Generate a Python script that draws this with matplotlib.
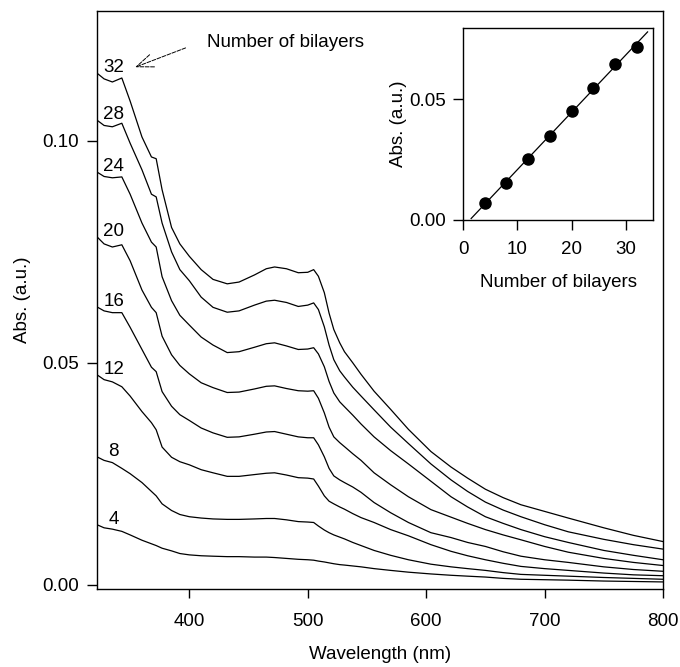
import numpy as np
import matplotlib
matplotlib.use('Agg')
import matplotlib.pyplot as plt

plt.rcParams['font.family'] = ['Liberation Sans', 'DejaVu Sans']
plt.rcParams['font.size'] = 13.5

# wavelength grid (nm)
wavelength = [322, 328, 335, 343, 350, 360, 368, 372, 377, 385, 392, 400, 410, 420, 432,
              442, 455, 465, 472, 482, 492, 500, 505, 509, 514, 518, 522, 527, 531, 538,
              545, 556, 570, 585, 604, 621, 635, 650, 665, 680, 700, 720, 750, 775, 800]

# absorbance for each number of bilayers
abs_32 = [0.1153, 0.1140, 0.1133, 0.1142, 0.1090, 0.1009, 0.0964, 0.0960, 0.0890, 0.0805,
          0.0768, 0.0740, 0.0710, 0.0688, 0.0678, 0.0682, 0.0698, 0.0712, 0.0716, 0.0712,
          0.0703, 0.0704, 0.0710, 0.0695, 0.0658, 0.0612, 0.0575, 0.0545, 0.0525, 0.0500,
          0.0474, 0.0436, 0.0395, 0.0350, 0.0300, 0.0265, 0.0240, 0.0215, 0.0196, 0.0180,
          0.0165, 0.0150, 0.0128, 0.0111, 0.0097]
abs_28 = [0.1047, 0.1035, 0.1032, 0.1040, 0.0995, 0.0935, 0.0880, 0.0874, 0.0815, 0.0750,
          0.0710, 0.0685, 0.0648, 0.0625, 0.0614, 0.0617, 0.0630, 0.0639, 0.0641, 0.0636,
          0.0627, 0.0630, 0.0635, 0.0620, 0.0581, 0.0540, 0.0507, 0.0482, 0.0468, 0.0445,
          0.0425, 0.0394, 0.0355, 0.0318, 0.0272, 0.0236, 0.0210, 0.0186, 0.0168, 0.0153,
          0.0135, 0.0119, 0.0102, 0.0090, 0.0080]
abs_24 = [0.0930, 0.0920, 0.0917, 0.0919, 0.0880, 0.0815, 0.0772, 0.0761, 0.0694, 0.0640,
          0.0607, 0.0585, 0.0558, 0.0540, 0.0523, 0.0525, 0.0535, 0.0543, 0.0545, 0.0538,
          0.0530, 0.0531, 0.0534, 0.0520, 0.0491, 0.0458, 0.0432, 0.0412, 0.0401, 0.0382,
          0.0362, 0.0333, 0.0302, 0.0272, 0.0233, 0.0198, 0.0175, 0.0153, 0.0138, 0.0124,
          0.0108, 0.0095, 0.0077, 0.0066, 0.0056]
abs_20 = [0.0784, 0.0768, 0.0761, 0.0766, 0.0730, 0.0664, 0.0625, 0.0613, 0.0560, 0.0518,
          0.0494, 0.0475, 0.0455, 0.0444, 0.0433, 0.0434, 0.0441, 0.0447, 0.0448, 0.0442,
          0.0437, 0.0436, 0.0437, 0.0420, 0.0387, 0.0355, 0.0333, 0.0320, 0.0311, 0.0295,
          0.0280, 0.0252, 0.0225, 0.0198, 0.0169, 0.0152, 0.0138, 0.0124, 0.0112, 0.0101,
          0.0086, 0.0073, 0.0059, 0.0050, 0.0043]
abs_16 = [0.0626, 0.0617, 0.0613, 0.0613, 0.0580, 0.0530, 0.0490, 0.0480, 0.0435, 0.0402,
          0.0383, 0.0370, 0.0353, 0.0342, 0.0332, 0.0333, 0.0339, 0.0344, 0.0345, 0.0339,
          0.0333, 0.0331, 0.0331, 0.0315, 0.0288, 0.0262, 0.0245, 0.0236, 0.0230, 0.0220,
          0.0208, 0.0185, 0.0162, 0.0140, 0.0117, 0.0106, 0.0095, 0.0086, 0.0074, 0.0064,
          0.0056, 0.0050, 0.0040, 0.0034, 0.0030]
abs_12 = [0.0473, 0.0462, 0.0457, 0.0446, 0.0425, 0.0390, 0.0365, 0.0349, 0.0310, 0.0287,
          0.0277, 0.0270, 0.0259, 0.0252, 0.0244, 0.0244, 0.0248, 0.0251, 0.0252, 0.0247,
          0.0241, 0.0240, 0.0238, 0.0222, 0.0200, 0.0188, 0.0182, 0.0175, 0.0170, 0.0160,
          0.0151, 0.0140, 0.0124, 0.0110, 0.0090, 0.0075, 0.0065, 0.0056, 0.0048, 0.0041,
          0.0036, 0.0032, 0.0026, 0.0022, 0.0020]
abs_8 = [0.0288, 0.0280, 0.0275, 0.0262, 0.0250, 0.0230, 0.0210, 0.0200, 0.0182, 0.0167,
         0.0158, 0.0153, 0.0150, 0.0148, 0.0147, 0.0147, 0.0148, 0.0149, 0.0149, 0.0146,
         0.0142, 0.0141, 0.0140, 0.0132, 0.0123, 0.0117, 0.0112, 0.0107, 0.0103, 0.0095,
         0.0088, 0.0077, 0.0066, 0.0056, 0.0046, 0.0040, 0.0036, 0.0032, 0.0027, 0.0023,
         0.0021, 0.0019, 0.0016, 0.0014, 0.0012]
abs_4 = [0.0135, 0.0128, 0.0125, 0.0120, 0.0112, 0.0100, 0.0092, 0.0088, 0.0082, 0.0076,
         0.0070, 0.0067, 0.0065, 0.0064, 0.0063, 0.0063, 0.0062, 0.0062, 0.0061, 0.0059,
         0.0057, 0.0056, 0.0055, 0.0053, 0.0051, 0.0049, 0.0047, 0.0045, 0.0044, 0.0042,
         0.0040, 0.0036, 0.0032, 0.0028, 0.0024, 0.0021, 0.0019, 0.0017, 0.0014, 0.0012,
         0.0011, 0.0010, 0.0008, 0.0007, 0.0006]

spectra = {32: abs_32, 28: abs_28, 24: abs_24, 20: abs_20,
           16: abs_16, 12: abs_12, 8: abs_8, 4: abs_4}

# inset: absorbance at the 472 nm band vs number of bilayers
bilayers = [4, 8, 12, 16, 20, 24, 28, 32]
abs_band = [0.0069, 0.0153, 0.0254, 0.0348, 0.0452, 0.0547, 0.0645, 0.0718]

fig = plt.figure(figsize=(6.8, 6.67), dpi=100)
ax = fig.add_axes([0.1426, 0.1169, 0.8324, 0.8666])

for n, vals in spectra.items():
    ax.plot(wavelength, vals, color='black', lw=0.9)
    ax.annotate(str(n), xy=(wavelength[0], vals[0]), xytext=(12, 4),
                textcoords='offset points', ha='center', va='center')

ax.set_xlim(322, 800)
ax.set_ylim(-0.001, 0.1293)
ax.set_xticks([400, 500, 600, 700, 800])
ax.set_yticks([0.0, 0.05, 0.10])
ax.set_yticklabels(['0.00', '0.05', '0.10'])
ax.tick_params(axis='x', direction='out', length=6.5, width=1, pad=11)
ax.tick_params(axis='y', direction='out', length=7, width=1, pad=6)
ax.set_xlabel('Wavelength (nm)', labelpad=11)
ax.set_ylabel('Abs. (a.u.)', labelpad=8)
for s in ax.spines.values():
    s.set_linewidth(1.0)

ax.annotate('', xy=(352, 0.1164), xytext=(399, 0.1212),
            arrowprops=dict(arrowstyle='->,head_length=0.9,head_width=0.35',
                            color='black', lw=0.7, linestyle=(0, (4, 1.5))))
ax.text(415, 0.1221, 'Number of bilayers', ha='left', va='center')

# inset
ins = fig.add_axes([0.6809, 0.6702, 0.2794, 0.2879])
ins.plot(bilayers, abs_band, 'o', color='black', ms=8)
slope, icpt = np.polyfit(bilayers, abs_band, 1)
fit_x = np.array([1.5, 34])
ins.plot(fit_x, slope * fit_x + icpt, color='black', lw=0.9)
ins.set_xlim(0, 35)
ins.set_ylim(0, 0.0795)
ins.set_xticks([0, 10, 20, 30])
ins.set_yticks([0.0, 0.05])
ins.set_yticklabels(['0.00', '0.05'])
ins.tick_params(axis='both', direction='out', length=7, width=1, pad=5)
ins.tick_params(axis='x', pad=8)
ins.set_xlabel('Number of bilayers', labelpad=12)
ins.set_ylabel('Abs. (a.u.)', labelpad=2)
for s in ins.spines.values():
    s.set_linewidth(1.0)

fig.savefig('out.png', dpi=100)
